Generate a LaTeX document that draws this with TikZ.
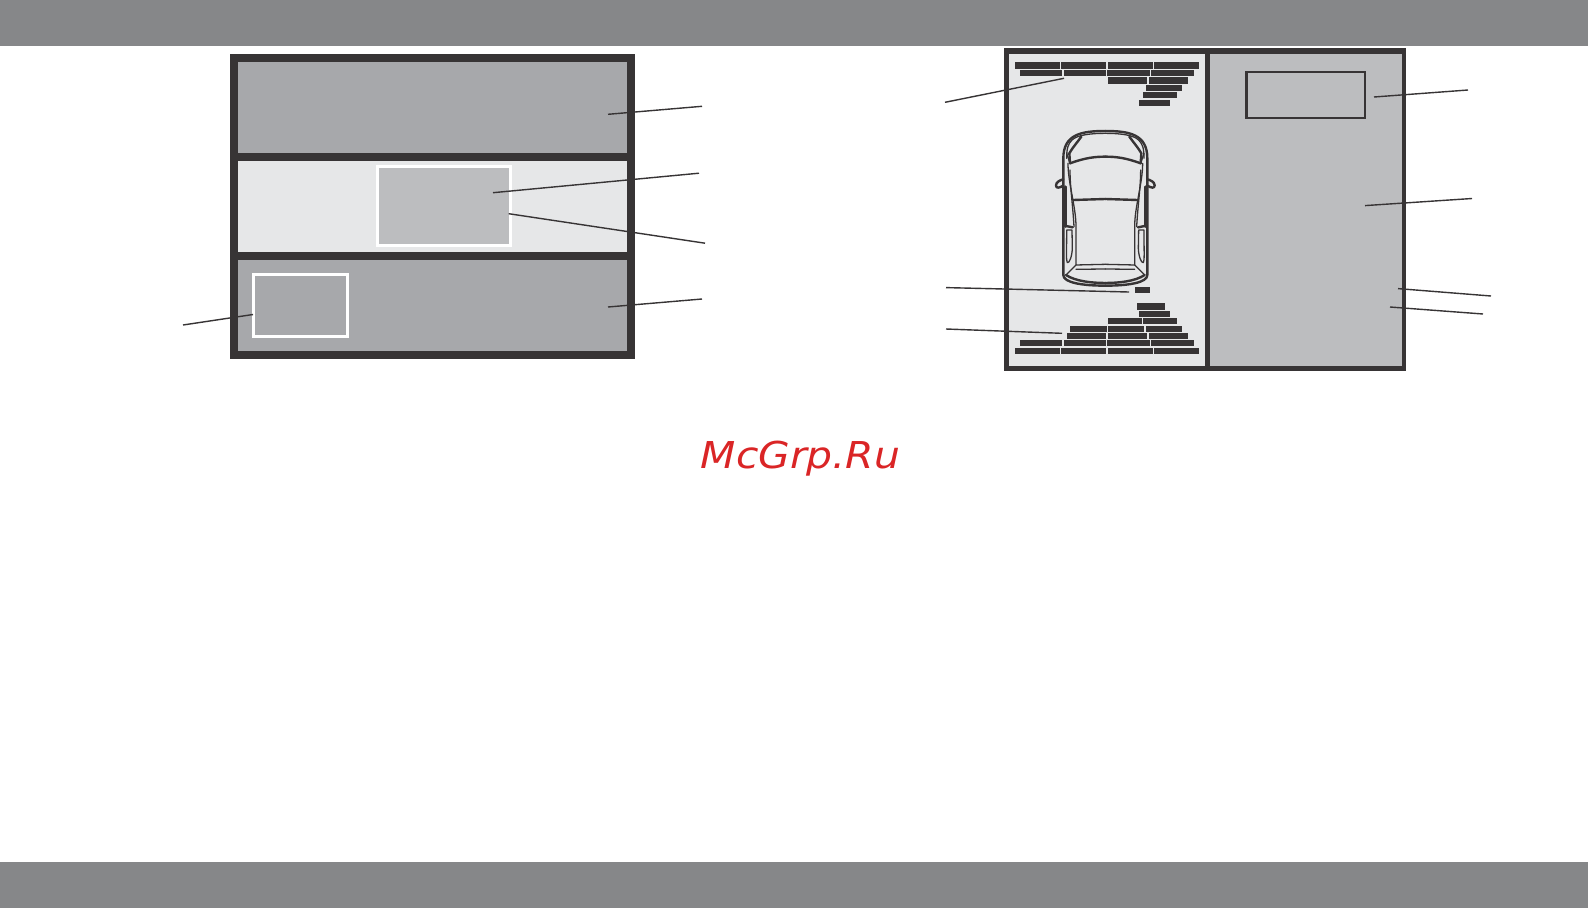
\documentclass[tikz,border=0pt]{standalone}
\usepackage{fontspec}
\newfontfamily\wmfont{DejaVu Sans}
\definecolor{ink}{HTML}{373435}
\definecolor{bandgray}{HTML}{A7A8AB}
\definecolor{lightgray}{HTML}{E6E7E8}
\definecolor{midgray}{HTML}{BCBDBF}
\definecolor{headgray}{HTML}{868789}
\definecolor{wmred}{HTML}{DA2526}
\tikzset{
  leader/.style={draw=ink,line width=1.4pt},
  carline/.style={draw=ink,line width=1.3pt,line join=round,line cap=round},
  carthick/.style={draw=ink,line width=2.4pt,line join=round,line cap=round},
  whitebox/.style={draw=white,line width=3pt,fill=#1},
}
\newcommand{\barrow}[3]{% y0,y1 (zoom units), base y; list of x pairs
  \foreach \a/\b in {#3} {\fill[ink] (1000+\a/3,#1) rectangle (1000+\b/3,#2);}}
\begin{document}
\begin{tikzpicture}[x=1pt,y=-1pt]
\path[use as bounding box,fill=white] (0,0) rectangle (1588,908);
% header and footer
\fill[headgray] (0,0) rectangle (1588,46);
\fill[headgray] (0,862) rectangle (1588,908);
% left panel
\fill[ink] (230,54) rectangle (635,359);
\fill[bandgray] (238,62) rectangle (627,153);
\fill[lightgray] (238,161) rectangle (627,252);
\fill[bandgray] (238,260) rectangle (627,351);
\path[whitebox=midgray] (377.5,166.5) rectangle (510.5,245.5);
\path[whitebox=bandgray] (253.5,274.5) rectangle (347.5,336.5);
\draw[leader] (608,114.3) -- (702,106.3);
\draw[leader] (493,192.7) -- (699,173.2);
\draw[leader] (508.7,213.7) -- (705,243.2);
\draw[leader] (608,307) -- (702,299);
\draw[leader] (183,325) -- (253,314.5);
% right panel
\fill[ink] (1004,48) rectangle (1406,371);
\fill[lightgray] (1009,54) rectangle (1205,366);
\fill[midgray] (1210,54) rectangle (1402,366);
\draw[draw=ink,line width=2.7pt,fill=midgray] (1246.5,72) rectangle (1365,118);
% text bars
\barrow{62}{69}{45/180,183/318,324/459,462/597}
\barrow{69.7}{76}{60/186,192/318,321/450,453/582}
\barrow{77.3}{84}{324/441,447/564}
\barrow{85}{91}{438/546}
\barrow{92}{98}{429/531}
\barrow{100}{106}{417/510}
\barrow{287}{293}{405/450}
\barrow{303}{310}{411/495}
\barrow{311}{317}{417/510}
\barrow{318}{324}{324/426,429/531}
\barrow{326}{332}{210/321,324/432,438/546}
\barrow{333}{339}{201/318,324/441,447/564}
\barrow{340}{346}{60/186,192/318,321/450,453/582}
\barrow{348}{354}{45/180,183/318,324/459,462/597}
% car
\begin{scope}[shift={(1040,120)},x=0.3333pt,y=-0.3333pt]
\foreach \s in {1,-1}{
\begin{scope}[shift={(196,0)},xscale=\s]
  \draw[carthick] (0,33) .. controls (-70,33) and (-126,42) .. (-126,115) -- (-126,465) .. controls (-126,488) and (-70,497) .. (0,497);
  \draw[carline] (0,40) .. controls (-50,40) and (-85,46) .. (-100,60) .. controls (-112,72) and (-116,85) .. (-116,115);
  \draw[carthick] (-72,50) .. controls (-85,68) and (-100,85) .. (-108,100) -- (-106,130);
  \draw[carthick] (-106,130) .. controls (-60,113) and (-30,110) .. (0,110);
  \draw[carline] (-116,100) -- (-106,130);
  \draw[carline] (-112,130) .. controls (-112,190) and (-88,260) .. (-88,320) -- (-88,435) -- (0,433);
  \draw[carline] (-106,150) .. controls (-106,200) and (-98,250) .. (-94,320);
  \draw[carthick] (-96,240) -- (0,237);
  \draw[carline] (-88,435) -- (-118,465);
  \draw[carline] (-88,448) -- (0,447);
  \draw[carthick] (-118,465) .. controls (-90,484) and (-40,489) .. (0,489);
  \draw[carthick] (-126,178) .. controls (-135,180) and (-148,186) .. (-148,196) .. controls (-148,206) and (-138,204) .. (-126,197);
  \draw[carthick] (-120,200) -- (-120,320);
  \draw[carline] (-116,330) -- (-100,330) -- (-99,385) .. controls (-100,410) and (-108,430) .. (-114,428) .. controls (-118,420) and (-116,400) .. (-116,330);
  \draw[carthick] (-118,318) -- (-98,322);
\end{scope}}
\end{scope}
\draw[leader] (945,102.3) -- (1064,78.3);
\draw[leader] (1374,97) -- (1468,90);
\draw[leader] (1365,205.6) -- (1472,198.5);
\draw[leader] (1398,288.6) -- (1491,296);
\draw[leader] (1390,307) -- (1483,314);
\draw[leader] (946,287.6) -- (1129,292);
\draw[leader] (946,329) -- (1062,333.3);
% watermark
\node[anchor=base west,inner sep=0pt,text=wmred,xscale=1.105,transform shape,font={\wmfont\itshape\fontsize{37}{40}\selectfont}] (wm) at (700.5,468) {McGrp.Ru};
\end{tikzpicture}
\end{document}
